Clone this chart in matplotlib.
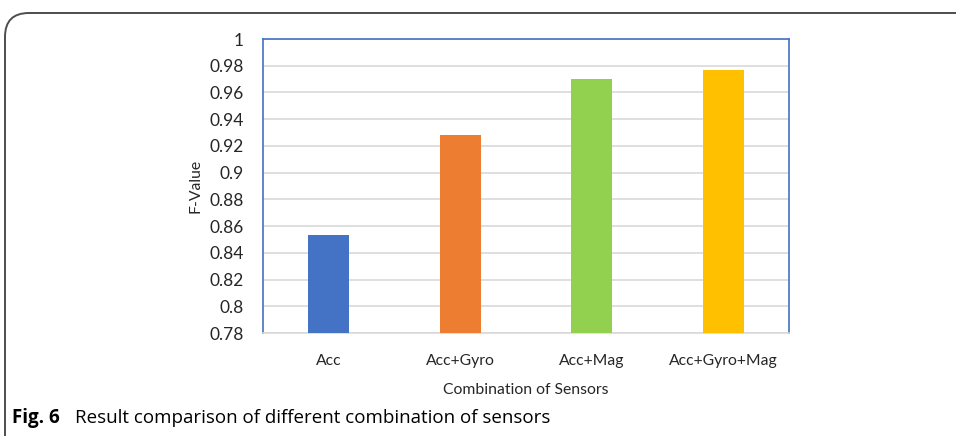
import matplotlib.pyplot as plt
from matplotlib.patches import FancyBboxPatch

# values
sensors = ['Acc', 'Acc+Gyro', 'Acc+Mag', 'Acc+Gyro+Mag']
f_values = [0.853, 0.928, 0.970, 0.977]
bar_colors = ['#4472C4', '#ED7D31', '#92D050', '#FFC000']
y_ticks = [0.78, 0.8, 0.82, 0.84, 0.86, 0.88, 0.9, 0.92, 0.94, 0.96, 0.98, 1]
y_tick_labels = ['0.78', '0.8', '0.82', '0.84', '0.86', '0.88', '0.9', '0.92', '0.94', '0.96', '0.98', '1']

plt.rcParams['font.family'] = ['Lato', 'DejaVu Sans']

fig = plt.figure(figsize=(9.56, 4.36), dpi=100)

# rounded frame around the figure (runs past right and bottom edge)
frame = FancyBboxPatch((5 / 956, -0.1), 1.2, (436 - 13) / 436 + 0.1,
                       boxstyle='round,pad=0,rounding_size=0.025',
                       transform=fig.transFigure, fill=False,
                       edgecolor='#4d4d4d', linewidth=1.4, mutation_aspect=956 / 436)
fig.patches.append(frame)

ax = fig.add_axes([263 / 956, (436 - 333) / 436, 526 / 956, 294 / 436])
x = range(len(sensors))
ax.bar(x, f_values, width=0.31, color=bar_colors, zorder=3)

ax.set_xlim(-0.5, len(sensors) - 0.5)
ax.set_ylim(0.78, 1.0)
ax.set_yticks(y_ticks)
ax.set_yticklabels(y_tick_labels)
ax.set_xticks(list(x))
ax.set_xticklabels(sensors)
ax.tick_params(axis='y', length=0, pad=14, labelsize=12.5, colors='#262626')
ax.tick_params(axis='x', length=0, pad=15, labelsize=11.3, colors='#262626')
ax.grid(axis='y', color='#d9d9d9', linewidth=1.2, zorder=0)

for side in ['left', 'top', 'right']:
    ax.spines[side].set_color('#4472C4')
    ax.spines[side].set_linewidth(1.2)
ax.spines['bottom'].set_color('#d9d9d9')
ax.spines['bottom'].set_linewidth(1.2)

ax.set_xlabel('Combination of Sensors', fontsize=11.3, color='#262626', labelpad=11)
ax.set_ylabel('F-Value', fontsize=11.3, color='#262626', labelpad=5)

# caption under the chart
fig.text(12 / 956, (436 - 418) / 436, 'Fig. 6', fontsize=13.5, fontweight='bold',
         family=['Open Sans', 'DejaVu Sans'], va='center', ha='left')
fig.text(75 / 956, (436 - 418) / 436, 'Result comparison of different combination of sensors',
         fontsize=13.5, family=['Open Sans', 'DejaVu Sans'], va='center', ha='left')

fig.savefig('out.png', dpi=100)
